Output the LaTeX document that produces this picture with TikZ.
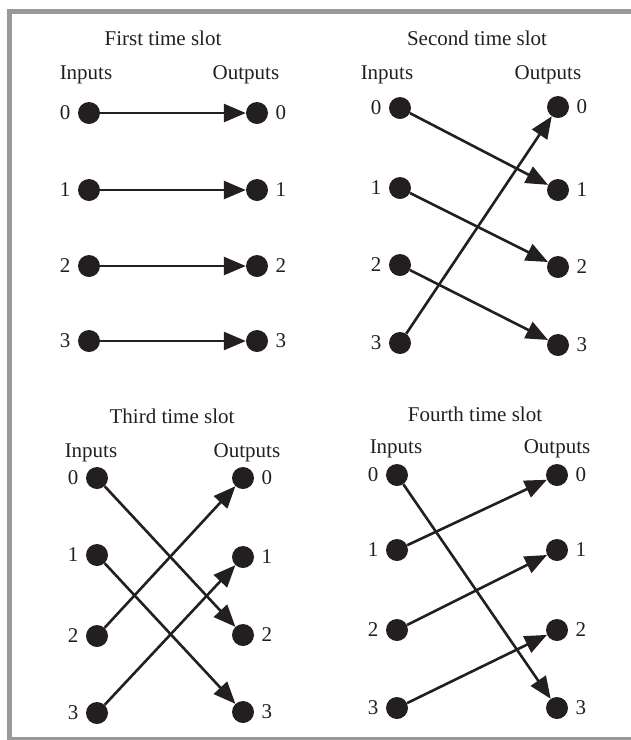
\documentclass[tikz,border=0pt]{standalone}
\usepackage{fontspec}
\setmainfont{Liberation Serif}
\usepackage{xcolor}
\usetikzlibrary{arrows.meta, positioning}

\definecolor{framegray}{gray}{0.6}
\definecolor{dotblack}{HTML}{231F20}

\begin{document}
\begin{tikzpicture}[
  x=1pt, y=-1pt,
  every node/.style={font=\fontsize{21}{25}\selectfont, text=dotblack},
  dot/.style={circle, fill=dotblack, minimum size=22pt, inner sep=0pt},
  num/.style={label distance=4pt},
  title/.style={anchor=base},
  conn/.style={draw=dotblack, line width=2.6pt, -{Triangle[length=22pt, width=18pt]}}
]
  \useasboundingbox (0,0) rectangle (631,740);
  % frame
  \fill[framegray] (7,9) rectangle (12,739.5);
  \fill[framegray] (7,9) rectangle (631,14);
  \fill[framegray] (7,737) rectangle (631,739.5);

  % first time slot
  \node[title] (t1) at (163,45) {First time slot};
  \node[title] (in1) at (86,79) {Inputs};
  \node[title] (out1) at (246,79) {Outputs};
  \foreach \k/\yi/\yo in {0/113/113, 1/190/190, 2/266/266, 3/341/341} {
    \node[dot, label={[num]left:\k}] (s1i\k) at (89,\yi) {};
    \node[dot, label={[num]right:\k}] (s1o\k) at (257,\yo) {};
  }
  \draw[conn] (s1i0) -- (s1o0);
  \draw[conn] (s1i1) -- (s1o1);
  \draw[conn] (s1i2) -- (s1o2);
  \draw[conn] (s1i3) -- (s1o3);

  % second time slot
  \node[title] (t2) at (477,45) {Second time slot};
  \node[title] (in2) at (387,79) {Inputs};
  \node[title] (out2) at (548,79) {Outputs};
  \foreach \k/\yi/\yo in {0/108/107, 1/188/190, 2/265/267, 3/343/345} {
    \node[dot, label={[num]left:\k}] (s2i\k) at (400,\yi) {};
    \node[dot, label={[num]right:\k}] (s2o\k) at (558,\yo) {};
  }
  \draw[conn] (s2i0) -- (s2o1);
  \draw[conn] (s2i1) -- (s2o2);
  \draw[conn] (s2i2) -- (s2o3);
  \draw[conn] (s2i3) -- (s2o0);

  % third time slot
  \node[title] (t3) at (172,423) {Third time slot};
  \node[title] (in3) at (91,457) {Inputs};
  \node[title] (out3) at (247,457) {Outputs};
  \foreach \k/\yi/\yo in {0/478/478, 1/555/557, 2/636/635, 3/713/712} {
    \node[dot, label={[num]left:\k}] (s3i\k) at (97,\yi) {};
    \node[dot, label={[num]right:\k}] (s3o\k) at (243,\yo) {};
  }
  \draw[conn] (s3i0) -- (s3o2);
  \draw[conn] (s3i1) -- (s3o3);
  \draw[conn] (s3i2) -- (s3o0);
  \draw[conn] (s3i3) -- (s3o1);

  % fourth time slot
  \node[title] (t4) at (475,421) {Fourth time slot};
  \node[title] (in4) at (396,453) {Inputs};
  \node[title] (out4) at (557,453) {Outputs};
  \foreach \k/\yi/\yo in {0/475/475, 1/550/550, 2/630/630, 3/708/708} {
    \node[dot, label={[num]left:\k}] (s4i\k) at (397,\yi) {};
    \node[dot, label={[num]right:\k}] (s4o\k) at (557,\yo) {};
  }
  \draw[conn] (s4i0) -- (s4o3);
  \draw[conn] (s4i1) -- (s4o0);
  \draw[conn] (s4i2) -- (s4o1);
  \draw[conn] (s4i3) -- (s4o2);
\end{tikzpicture}
\end{document}
